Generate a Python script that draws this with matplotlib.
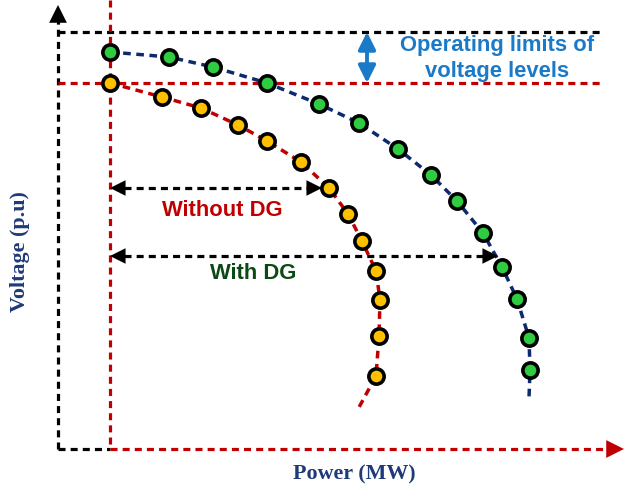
import matplotlib.pyplot as plt

# values (picture units: power to the right, voltage downward on screen)
with_dg_p = [110, 169, 213, 267, 319, 359, 398, 431, 457, 483, 502, 517, 529, 530]
with_dg_v = [52, 57, 67, 83, 104, 123, 149, 175, 201, 233, 267, 299, 338, 370]
with_dg_tail = (529, 398)

without_dg_p = [110, 162, 201, 238, 267, 301, 329, 348, 362, 376, 380, 379, 376]
without_dg_v = [83, 97, 108, 125, 141, 162, 188, 214, 241, 271, 300, 336, 376]
without_dg_tail = (357, 411)

v_upper = 32     # upper operating limit
v_lower = 83     # lower operating limit
p_min = 110
origin = (58, 449)

dash = (0, (2.2, 1.6))
red = '#c00000'
navy = '#0d2a6e'
blue = '#1a7ac8'

fig = plt.figure(figsize=(6.24, 4.9), dpi=100)
ax = fig.add_axes([0, 0, 1, 1])
ax.set_xlim(0, 624)
ax.set_ylim(490, 0)
ax.axis('off')

# axes frame
ax.plot([origin[0], origin[0]], [origin[1], 20], color='k', lw=2.3, ls=dash)
ax.annotate('', xy=(origin[0], 5), xytext=(origin[0], 24),
            arrowprops=dict(arrowstyle='-|>', color='k', lw=0, mutation_scale=32,
                            shrinkA=0, shrinkB=0))
ax.plot([origin[0], p_min], [origin[1], origin[1]], color='k', lw=2.3, ls=dash)
ax.plot([p_min, 608], [origin[1], origin[1]], color=red, lw=2.3, ls=dash)
ax.annotate('', xy=(624, origin[1]), xytext=(605, origin[1]),
            arrowprops=dict(arrowstyle='-|>', color=red, lw=0, mutation_scale=32,
                            shrinkA=0, shrinkB=0))

# limits
ax.plot([origin[0], 603], [v_upper, v_upper], color='k', lw=2.3, ls=dash)
ax.plot([origin[0], 603], [v_lower, v_lower], color=red, lw=2.3, ls=dash)
ax.plot([p_min, p_min], [0, origin[1]], color=red, lw=2.3, ls=dash)

# operating limits arrow
ax.annotate('', xy=(367, v_upper), xytext=(367, v_lower),
            arrowprops=dict(arrowstyle='<|-|>', color=blue, lw=2.8, mutation_scale=26,
                            shrinkA=0, shrinkB=0))
ax.text(497, 45, 'Operating limits of', color=blue, fontsize=15.8, fontweight='bold',
        family='Liberation Sans', ha='center', va='center')
ax.text(497, 71, 'voltage levels', color=blue, fontsize=15.8, fontweight='bold',
        family='Liberation Sans', ha='center', va='center')

# curves
ax.plot(with_dg_p + [with_dg_tail[0]], with_dg_v + [with_dg_tail[1]],
        color=navy, lw=2.5, ls=dash, zorder=2)
ax.plot(without_dg_p + [without_dg_tail[0]], without_dg_v + [without_dg_tail[1]],
        color=red, lw=2.5, ls=dash, zorder=2)
ax.plot(with_dg_p, with_dg_v, 'o', ms=11, mfc='#2ecc40', mec='k', mew=2.6, zorder=3)
ax.plot(without_dg_p, without_dg_v, 'o', ms=11, mfc='#ffc000', mec='k', mew=2.6, zorder=3)

# range arrows
for y, x_end in [(188, 322), (256, 498)]:
    ax.plot([p_min + 14, x_end - 14], [y, y], color='k', lw=2.3, ls=dash)
    ax.annotate('', xy=(p_min, y), xytext=(p_min + 18, y),
                arrowprops=dict(arrowstyle='-|>', color='k', lw=0, mutation_scale=28,
                                shrinkA=0, shrinkB=0))
    ax.annotate('', xy=(x_end, y), xytext=(x_end - 18, y),
                arrowprops=dict(arrowstyle='-|>', color='k', lw=0, mutation_scale=28,
                                shrinkA=0, shrinkB=0))
ax.text(222, 210, 'Without DG', color=red, fontsize=15.8, fontweight='bold',
        family='Liberation Sans', ha='center', va='center')
ax.text(253, 273, 'With DG', color='#0b4a14', fontsize=15.8, fontweight='bold',
        family='Liberation Sans', ha='center', va='center')

# axis labels
ax.text(354, 474, 'Power (MW)', color='#1f3a78', fontsize=15.8, fontweight='bold',
        family='Liberation Serif', ha='center', va='center')
ax.text(20, 252, 'Voltage (p.u)', color='#1f3a78', fontsize=15.8, fontweight='bold',
        family='Liberation Serif', ha='center', va='center', rotation=90)

plt.savefig('out.png')
